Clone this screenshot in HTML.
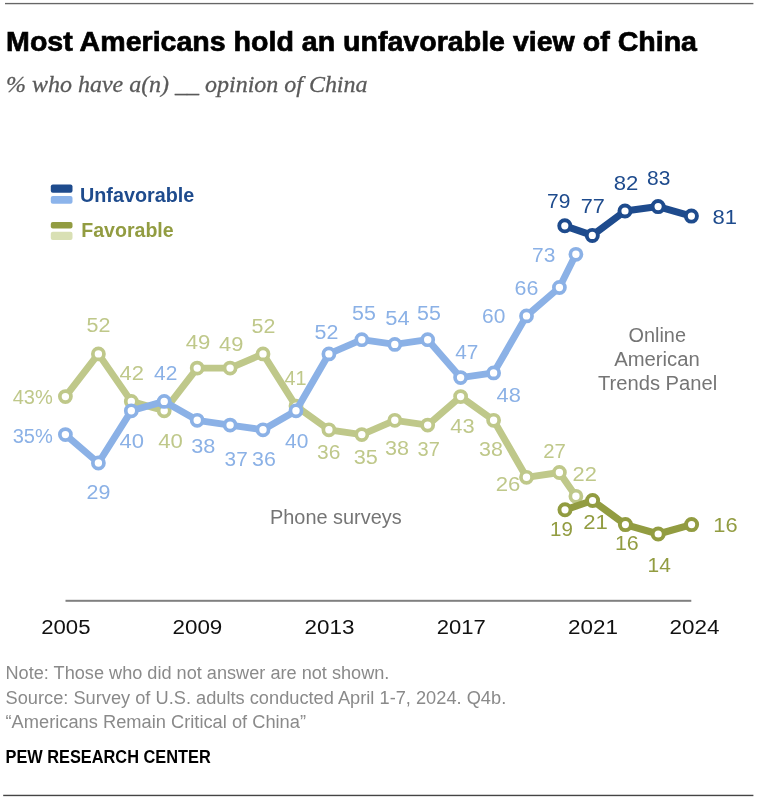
<!DOCTYPE html>
<html lang="en"><head><meta charset="utf-8"><title>Most Americans hold an unfavorable view of China</title>
<style>
html,body{margin:0;padding:0;background:#fff;width:764px;height:800px;overflow:hidden;}
svg{display:block;font-family:"Liberation Sans",sans-serif;}
</style></head><body>
<svg width="764" height="800" viewBox="0 0 764 800">
<rect width="764" height="800" fill="#fff"/>
<rect x="5" y="2.9" width="748.4" height="1.35" fill="#666"/>
<rect x="3.2" y="794.75" width="750.2" height="1.4" fill="#444"/>
<text x="6.1" y="51.3" font-size="28.4" fill="#000" textLength="690.92" lengthAdjust="spacingAndGlyphs" font-weight="bold" stroke="#000" stroke-width="0.7">Most Americans hold an unfavorable view of China</text>
<text x="6.0" y="91.8" font-size="24" fill="#5a5a5a" textLength="361.5" lengthAdjust="spacingAndGlyphs" font-family="Liberation Serif, serif" font-style="italic" stroke="#5a5a5a" stroke-width="0.3">% who have a(n) __ opinion of China</text>
<rect x="50.8" y="184.6" width="21.7" height="8.2" rx="2" fill="#1E4B8D"/>
<rect x="50.8" y="195.9" width="21.7" height="7.8" rx="2" fill="#8CB4EB"/>
<rect x="50.8" y="222" width="21.7" height="6.6" rx="2" fill="#929C41"/>
<rect x="50.8" y="231.7" width="21.7" height="8.4" rx="2" fill="#D9E0B4"/>
<text x="80.0" y="201.5" font-size="20" fill="#1E4B8D" textLength="114.21" lengthAdjust="spacingAndGlyphs" font-weight="bold">Unfavorable</text>
<text x="81.2" y="237" font-size="20" fill="#929C41" textLength="92.5" lengthAdjust="spacingAndGlyphs" font-weight="bold">Favorable</text>
<rect x="65.5" y="599.8" width="625.8" height="2" fill="#808080"/>
<text x="41.2" y="633.8" font-size="20.5" fill="#111" textLength="49.29" lengthAdjust="spacingAndGlyphs">2005</text>
<text x="172.5" y="633.8" font-size="20.5" fill="#111" textLength="49.79" lengthAdjust="spacingAndGlyphs">2009</text>
<text x="304.6" y="633.8" font-size="20.5" fill="#111" textLength="49.89" lengthAdjust="spacingAndGlyphs">2013</text>
<text x="436.8" y="633.8" font-size="20.5" fill="#111" textLength="48.99" lengthAdjust="spacingAndGlyphs">2017</text>
<text x="568.0" y="633.8" font-size="20.5" fill="#111" textLength="49.99" lengthAdjust="spacingAndGlyphs">2021</text>
<text x="669.5" y="633.8" font-size="20.5" fill="#111" textLength="49.99" lengthAdjust="spacingAndGlyphs">2024</text>
<path d="M65.4 396.6 L98.4 353.9 L131.3 401.4 L164.2 410.8 L197.2 368.1 L230.1 368.1 L263.0 353.9 L296.0 406.1 L328.9 429.8 L361.8 434.6 L394.8 420.3 L427.7 425.1 L460.6 396.6 L493.6 420.3 L526.5 477.3 L559.4 472.5 L575.9 496.3" fill="none" stroke="#BFC88A" stroke-width="6.9" stroke-linejoin="round" stroke-linecap="round"/>
<circle cx="65.4" cy="396.6" r="5.55" fill="#fff" stroke="#BFC88A" stroke-width="3.7"/>
<circle cx="98.4" cy="353.9" r="5.55" fill="#fff" stroke="#BFC88A" stroke-width="3.7"/>
<circle cx="131.3" cy="401.4" r="5.55" fill="#fff" stroke="#BFC88A" stroke-width="3.7"/>
<circle cx="164.2" cy="410.8" r="5.55" fill="#fff" stroke="#BFC88A" stroke-width="3.7"/>
<circle cx="197.2" cy="368.1" r="5.55" fill="#fff" stroke="#BFC88A" stroke-width="3.7"/>
<circle cx="230.1" cy="368.1" r="5.55" fill="#fff" stroke="#BFC88A" stroke-width="3.7"/>
<circle cx="263.0" cy="353.9" r="5.55" fill="#fff" stroke="#BFC88A" stroke-width="3.7"/>
<circle cx="296.0" cy="406.1" r="5.55" fill="#fff" stroke="#BFC88A" stroke-width="3.7"/>
<circle cx="328.9" cy="429.8" r="5.55" fill="#fff" stroke="#BFC88A" stroke-width="3.7"/>
<circle cx="361.8" cy="434.6" r="5.55" fill="#fff" stroke="#BFC88A" stroke-width="3.7"/>
<circle cx="394.8" cy="420.3" r="5.55" fill="#fff" stroke="#BFC88A" stroke-width="3.7"/>
<circle cx="427.7" cy="425.1" r="5.55" fill="#fff" stroke="#BFC88A" stroke-width="3.7"/>
<circle cx="460.6" cy="396.6" r="5.55" fill="#fff" stroke="#BFC88A" stroke-width="3.7"/>
<circle cx="493.6" cy="420.3" r="5.55" fill="#fff" stroke="#BFC88A" stroke-width="3.7"/>
<circle cx="526.5" cy="477.3" r="5.55" fill="#fff" stroke="#BFC88A" stroke-width="3.7"/>
<circle cx="559.4" cy="472.5" r="5.55" fill="#fff" stroke="#BFC88A" stroke-width="3.7"/>
<circle cx="575.9" cy="496.3" r="5.55" fill="#fff" stroke="#BFC88A" stroke-width="3.7"/>
<path d="M65.4 434.6 L98.4 463.0 L131.3 410.8 L164.2 401.4 L197.2 420.3 L230.1 425.1 L263.0 429.8 L296.0 410.8 L328.9 353.9 L361.8 339.7 L394.8 344.4 L427.7 339.7 L460.6 377.6 L493.6 372.9 L526.5 315.9 L559.4 287.5 L575.9 254.3" fill="none" stroke="#8BB1E6" stroke-width="6.9" stroke-linejoin="round" stroke-linecap="round"/>
<circle cx="65.4" cy="434.6" r="5.55" fill="#fff" stroke="#8BB1E6" stroke-width="3.7"/>
<circle cx="98.4" cy="463.0" r="5.55" fill="#fff" stroke="#8BB1E6" stroke-width="3.7"/>
<circle cx="131.3" cy="410.8" r="5.55" fill="#fff" stroke="#8BB1E6" stroke-width="3.7"/>
<circle cx="164.2" cy="401.4" r="5.55" fill="#fff" stroke="#8BB1E6" stroke-width="3.7"/>
<circle cx="197.2" cy="420.3" r="5.55" fill="#fff" stroke="#8BB1E6" stroke-width="3.7"/>
<circle cx="230.1" cy="425.1" r="5.55" fill="#fff" stroke="#8BB1E6" stroke-width="3.7"/>
<circle cx="263.0" cy="429.8" r="5.55" fill="#fff" stroke="#8BB1E6" stroke-width="3.7"/>
<circle cx="296.0" cy="410.8" r="5.55" fill="#fff" stroke="#8BB1E6" stroke-width="3.7"/>
<circle cx="328.9" cy="353.9" r="5.55" fill="#fff" stroke="#8BB1E6" stroke-width="3.7"/>
<circle cx="361.8" cy="339.7" r="5.55" fill="#fff" stroke="#8BB1E6" stroke-width="3.7"/>
<circle cx="394.8" cy="344.4" r="5.55" fill="#fff" stroke="#8BB1E6" stroke-width="3.7"/>
<circle cx="427.7" cy="339.7" r="5.55" fill="#fff" stroke="#8BB1E6" stroke-width="3.7"/>
<circle cx="460.6" cy="377.6" r="5.55" fill="#fff" stroke="#8BB1E6" stroke-width="3.7"/>
<circle cx="493.6" cy="372.9" r="5.55" fill="#fff" stroke="#8BB1E6" stroke-width="3.7"/>
<circle cx="526.5" cy="315.9" r="5.55" fill="#fff" stroke="#8BB1E6" stroke-width="3.7"/>
<circle cx="559.4" cy="287.5" r="5.55" fill="#fff" stroke="#8BB1E6" stroke-width="3.7"/>
<circle cx="575.9" cy="254.3" r="5.55" fill="#fff" stroke="#8BB1E6" stroke-width="3.7"/>
<path d="M565.0 509.8 L592.6 500.5 L625.4 524.6 L658.2 534.0 L691.6 524.6" fill="none" stroke="#929C41" stroke-width="7.1" stroke-linejoin="round" stroke-linecap="round"/>
<circle cx="565.0" cy="509.8" r="5.55" fill="#fff" stroke="#929C41" stroke-width="3.9"/>
<circle cx="592.6" cy="500.5" r="5.55" fill="#fff" stroke="#929C41" stroke-width="3.9"/>
<circle cx="625.4" cy="524.6" r="5.55" fill="#fff" stroke="#929C41" stroke-width="3.9"/>
<circle cx="658.2" cy="534.0" r="5.55" fill="#fff" stroke="#929C41" stroke-width="3.9"/>
<circle cx="691.6" cy="524.6" r="5.55" fill="#fff" stroke="#929C41" stroke-width="3.9"/>
<path d="M564.8 225.8 L592.3 235.4 L625.0 211.0 L658.1 206.6 L691.4 216.1" fill="none" stroke="#1E4B8D" stroke-width="7.1" stroke-linejoin="round" stroke-linecap="round"/>
<circle cx="564.8" cy="225.8" r="5.55" fill="#fff" stroke="#1E4B8D" stroke-width="3.9"/>
<circle cx="592.3" cy="235.4" r="5.55" fill="#fff" stroke="#1E4B8D" stroke-width="3.9"/>
<circle cx="625.0" cy="211.0" r="5.55" fill="#fff" stroke="#1E4B8D" stroke-width="3.9"/>
<circle cx="658.1" cy="206.6" r="5.55" fill="#fff" stroke="#1E4B8D" stroke-width="3.9"/>
<circle cx="691.4" cy="216.1" r="5.55" fill="#fff" stroke="#1E4B8D" stroke-width="3.9"/>
<text x="12.7" y="404.1" font-size="20.5" fill="#BFC88A" textLength="40.11" lengthAdjust="spacingAndGlyphs">43%</text>
<text x="86.5" y="332.4" font-size="20.5" fill="#BFC88A" textLength="23.91" lengthAdjust="spacingAndGlyphs">52</text>
<text x="119.5" y="379.5" font-size="20.5" fill="#BFC88A" textLength="24.41" lengthAdjust="spacingAndGlyphs">42</text>
<text x="158.3" y="447.7" font-size="20.5" fill="#BFC88A" textLength="24.61" lengthAdjust="spacingAndGlyphs">40</text>
<text x="185.8" y="348.9" font-size="20.5" fill="#BFC88A" textLength="24.61" lengthAdjust="spacingAndGlyphs">49</text>
<text x="219.1" y="350.7" font-size="20.5" fill="#BFC88A" textLength="24.31" lengthAdjust="spacingAndGlyphs">49</text>
<text x="251.6" y="332.7" font-size="20.5" fill="#BFC88A" textLength="23.81" lengthAdjust="spacingAndGlyphs">52</text>
<text x="284.6" y="384.7" font-size="20.5" fill="#BFC88A" textLength="22.01" lengthAdjust="spacingAndGlyphs">41</text>
<text x="317.1" y="459.2" font-size="20.5" fill="#BFC88A" textLength="23.31" lengthAdjust="spacingAndGlyphs">36</text>
<text x="353.8" y="464.2" font-size="20.5" fill="#BFC88A" textLength="24.11" lengthAdjust="spacingAndGlyphs">35</text>
<text x="385.1" y="454.7" font-size="20.5" fill="#BFC88A" textLength="24.01" lengthAdjust="spacingAndGlyphs">38</text>
<text x="417.6" y="456.4" font-size="20.5" fill="#BFC88A" textLength="22.31" lengthAdjust="spacingAndGlyphs">37</text>
<text x="450.3" y="433.2" font-size="20.5" fill="#BFC88A" textLength="24.31" lengthAdjust="spacingAndGlyphs">43</text>
<text x="479.1" y="455.7" font-size="20.5" fill="#BFC88A" textLength="23.81" lengthAdjust="spacingAndGlyphs">38</text>
<text x="495.8" y="490.7" font-size="20.5" fill="#BFC88A" textLength="24.61" lengthAdjust="spacingAndGlyphs">26</text>
<text x="543.3" y="457.7" font-size="20.5" fill="#BFC88A" textLength="22.61" lengthAdjust="spacingAndGlyphs">27</text>
<text x="572.6" y="481.4" font-size="20.5" fill="#BFC88A" textLength="24.31" lengthAdjust="spacingAndGlyphs">22</text>
<text x="12.7" y="442.9" font-size="20.5" fill="#8BB1E6" textLength="40.11" lengthAdjust="spacingAndGlyphs">35%</text>
<text x="86.6" y="499.4" font-size="20.5" fill="#8BB1E6" textLength="23.81" lengthAdjust="spacingAndGlyphs">29</text>
<text x="119.6" y="447.7" font-size="20.5" fill="#8BB1E6" textLength="24.51" lengthAdjust="spacingAndGlyphs">40</text>
<text x="154.1" y="379.7" font-size="20.5" fill="#8BB1E6" textLength="23.31" lengthAdjust="spacingAndGlyphs">42</text>
<text x="191.3" y="453.2" font-size="20.5" fill="#8BB1E6" textLength="24.11" lengthAdjust="spacingAndGlyphs">38</text>
<text x="224.6" y="465.7" font-size="20.5" fill="#8BB1E6" textLength="23.11" lengthAdjust="spacingAndGlyphs">37</text>
<text x="252.1" y="465.7" font-size="20.5" fill="#8BB1E6" textLength="23.81" lengthAdjust="spacingAndGlyphs">36</text>
<text x="285.1" y="447.7" font-size="20.5" fill="#8BB1E6" textLength="23.31" lengthAdjust="spacingAndGlyphs">40</text>
<text x="314.6" y="339.4" font-size="20.5" fill="#8BB1E6" textLength="23.81" lengthAdjust="spacingAndGlyphs">52</text>
<text x="352.1" y="320.2" font-size="20.5" fill="#8BB1E6" textLength="23.81" lengthAdjust="spacingAndGlyphs">55</text>
<text x="385.3" y="325.2" font-size="20.5" fill="#8BB1E6" textLength="24.31" lengthAdjust="spacingAndGlyphs">54</text>
<text x="417.1" y="320.2" font-size="20.5" fill="#8BB1E6" textLength="23.81" lengthAdjust="spacingAndGlyphs">55</text>
<text x="455.3" y="358.9" font-size="20.5" fill="#8BB1E6" textLength="23.11" lengthAdjust="spacingAndGlyphs">47</text>
<text x="496.6" y="402.2" font-size="20.5" fill="#8BB1E6" textLength="24.31" lengthAdjust="spacingAndGlyphs">48</text>
<text x="482.1" y="323.2" font-size="20.5" fill="#8BB1E6" textLength="23.31" lengthAdjust="spacingAndGlyphs">60</text>
<text x="514.6" y="295.2" font-size="20.5" fill="#8BB1E6" textLength="23.81" lengthAdjust="spacingAndGlyphs">66</text>
<text x="532.1" y="262.2" font-size="20.5" fill="#8BB1E6" textLength="23.31" lengthAdjust="spacingAndGlyphs">73</text>
<text x="547.1" y="208.4" font-size="20.5" fill="#1E4B8D" textLength="23.31" lengthAdjust="spacingAndGlyphs">79</text>
<text x="580.8" y="213.4" font-size="20.5" fill="#1E4B8D" textLength="24.11" lengthAdjust="spacingAndGlyphs">77</text>
<text x="613.8" y="189.7" font-size="20.5" fill="#1E4B8D" textLength="24.61" lengthAdjust="spacingAndGlyphs">82</text>
<text x="647.1" y="185.2" font-size="20.5" fill="#1E4B8D" textLength="23.31" lengthAdjust="spacingAndGlyphs">83</text>
<text x="712.6" y="223.9" font-size="20.5" fill="#1E4B8D" textLength="24.51" lengthAdjust="spacingAndGlyphs">81</text>
<text x="550.1" y="535.7" font-size="20.5" fill="#929C41" textLength="22.81" lengthAdjust="spacingAndGlyphs">19</text>
<text x="583.3" y="529.4" font-size="20.5" fill="#929C41" textLength="24.61" lengthAdjust="spacingAndGlyphs">21</text>
<text x="614.9" y="550.2" font-size="20.5" fill="#929C41" textLength="23.81" lengthAdjust="spacingAndGlyphs">16</text>
<text x="647.6" y="571.9" font-size="20.5" fill="#929C41" textLength="23.31" lengthAdjust="spacingAndGlyphs">14</text>
<text x="713.3" y="531.9" font-size="20.5" fill="#929C41" textLength="24.31" lengthAdjust="spacingAndGlyphs">16</text>
<text x="270.0" y="524.3" font-size="19.5" fill="#757575" textLength="131.7" lengthAdjust="spacingAndGlyphs">Phone surveys</text>
<text x="628.5" y="341.6" font-size="19.5" fill="#757575" textLength="57.49" lengthAdjust="spacingAndGlyphs">Online</text>
<text x="614.2" y="366" font-size="19.5" fill="#757575" textLength="85.49" lengthAdjust="spacingAndGlyphs">American</text>
<text x="598.0" y="390.3" font-size="19.5" fill="#757575" textLength="119.19" lengthAdjust="spacingAndGlyphs">Trends Panel</text>
<text x="5.5" y="678.8" font-size="18" fill="#8a8a8a" textLength="383.89" lengthAdjust="spacingAndGlyphs">Note: Those who did not answer are not shown.</text>
<text x="5.5" y="703.6" font-size="18" fill="#8a8a8a" textLength="500.7" lengthAdjust="spacingAndGlyphs">Source: Survey of U.S. adults conducted April 1-7, 2024. Q4b.</text>
<text x="5.5" y="727.5" font-size="18" fill="#8a8a8a" textLength="300.51" lengthAdjust="spacingAndGlyphs">“Americans Remain Critical of China”</text>
<text x="5.5" y="763" font-size="18" fill="#000" textLength="205.2" lengthAdjust="spacingAndGlyphs" font-weight="bold">PEW RESEARCH CENTER</text>
</svg>
</body></html>
